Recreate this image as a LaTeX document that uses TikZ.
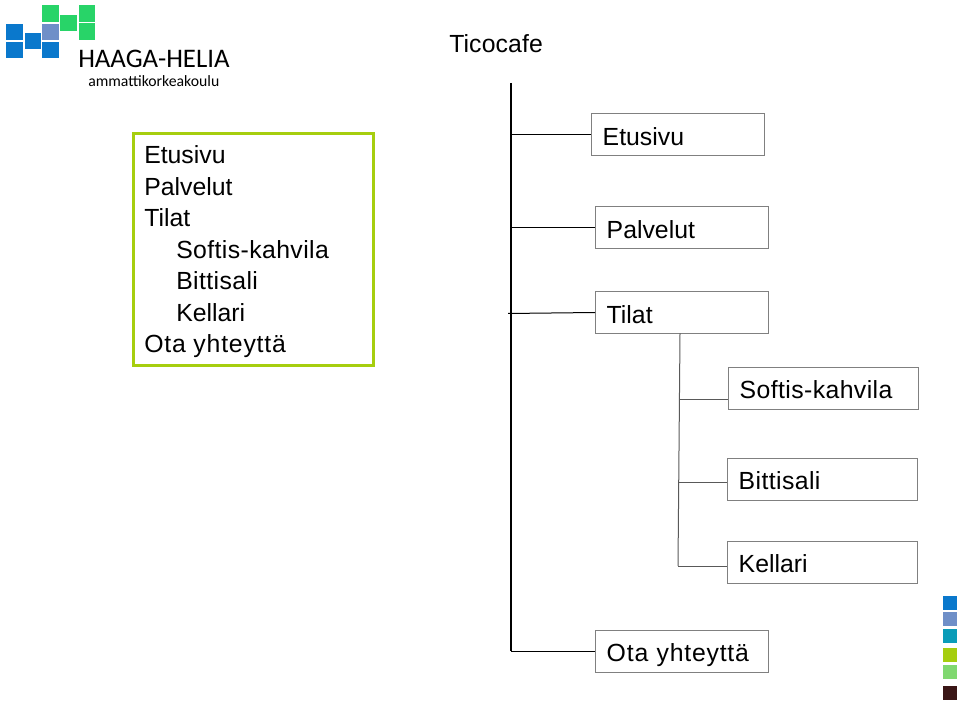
\documentclass[tikz,border=0pt]{standalone}
\usepackage{fontspec}
\setmainfont{Liberation Sans}
\newfontfamily\logofont{Carlito}
\usepackage{xcolor}
\usetikzlibrary{positioning}
\definecolor{hhblue}{HTML}{0A78CC}
\definecolor{hhperi}{HTML}{6F8FC8}
\definecolor{hhteal}{HTML}{0A9CB8}
\definecolor{hhlime}{HTML}{A6CE0E}
\definecolor{hhgreen}{HTML}{28D468}
\definecolor{hhmint}{HTML}{80D870}
\definecolor{hhbrown}{HTML}{3A1616}
\definecolor{boxline}{HTML}{808080}
\newcommand{\spaced}[2]{\addfontfeature{LetterSpace=#1}#2}

\begin{document}
\begin{tikzpicture}[
    x=0.75pt, y=-0.75pt,
    block/.style={draw=boxline, anchor=north west, inner xsep=8.6pt, inner ysep=0pt,
                  text height=23.6pt, text depth=7.9pt, align=left,
                  font=\fontsize{18.6}{18.6}\selectfont},
    nblock/.style={block, text width=112.6pt},
    wblock/.style={block, text width=125.2pt},
    label/.style={anchor=base west, inner sep=0pt, font=\fontsize{18.6}{18.6}\selectfont},
    trunk/.style={black, line width=1.1pt},
    twig/.style={black, line width=0.75pt},
    branch/.style={black!65, line width=0.75pt},
    tile/.style={inner sep=0pt, minimum size=12.4pt, draw=none},
    stile/.style={tile, minimum size=11pt}
  ]
    \useasboundingbox (0,0) rectangle (960,705);

    % Logo
    \node[tile, fill=hhblue] (b1) at (14.5,32) {};
    \node[tile, fill=hhblue] (b2) at (14.5,50) {};
    \node[tile, fill=hhblue] (b3) at (33,41) {};
    \node[tile, fill=hhblue] (b4) at (50.5,50) {};
    \node[tile, fill=hhperi] (p1) at (50.5,32) {};
    \node[tile, fill=hhgreen] (g1) at (50.5,13.5) {};
    \node[tile, fill=hhgreen] (g2) at (68.5,23) {};
    \node[tile, fill=hhgreen] (g3) at (87,13.5) {};
    \node[tile, fill=hhgreen] (g4) at (87,31.5) {};
    \node[anchor=base west, inner sep=0pt, font=\logofont\fontsize{20.1}{20.1}\selectfont] (hh) at (78,68) {HAAGA-HELIA};
    \node[anchor=base west, inner sep=0pt, font=\logofont\fontsize{11.8}{11.8}\selectfont] (amk) at (88,87) {ammattikorkeakoulu};

    % Title
    \node[label] (title) at (449,53) {\spaced{0.5}{Ticocafe}};

    % Menu box
    \node[draw=hhlime, line width=2.6pt, anchor=north west, minimum width=180pt, minimum height=174pt, inner sep=0pt] (menu) at (131.8,132) {};
    \node[label] (m1) at (144,164) {Etusivu};
    \node[label] (m2) at (144,196) {Palvelut};
    \node[label] (m3) at (144,227) {Tilat};
    \node[label] (m4) at (176,259) {\spaced{1.6}{Softis-kahvila}};
    \node[label] (m5) at (176,290) {\spaced{1.6}{Bittisali}};
    \node[label] (m6) at (176,322) {Kellari};
    \node[label] (m7) at (144,353) {\spaced{3.2}{Ota yhteyttä}};

    % Page boxes
    \node[nblock] (etusivu) at (591,113.5) {Etusivu};
    \node[nblock] (palvelut) at (595,206.5) {Palvelut};
    \node[nblock] (tilat) at (595,291.5) {Tilat};
    \node[wblock] (softis) at (728,367) {\spaced{1.6}{Softis-kahvila}};
    \node[wblock] (bittisali) at (727,458) {\spaced{1.6}{Bittisali}};
    \node[wblock] (kellari) at (727,540.5) {Kellari};
    \node[nblock] (ota) at (595,630) {\spaced{3.2}{Ota yhteyttä}};

    % Tree lines
    \coordinate (top) at (511,83);
    \coordinate (bot) at (511,651);
    \coordinate (jetu) at (511,134.5);
    \coordinate (jpal) at (511,227.5);
    \coordinate (jtil) at (508,313.5);
    \coordinate (tilout) at (595,312.5);
    \coordinate (sub) at (680,333.5);
    \coordinate (subend) at (678,566);
    \coordinate (jsof) at (679,399.5);
    \coordinate (jbit) at (679,483);
    \draw[trunk] (top) -- (bot);
    \draw[twig] (jetu) -- (etusivu.west |- jetu);
    \draw[twig] (jpal) -- (palvelut.west |- jpal);
    \draw[twig] (jtil) -- (tilout);
    \draw[twig] (bot) -- (ota.west |- bot);
    \draw[branch] (sub) -- (subend);
    \draw[branch] (jsof) -- (softis.west |- jsof);
    \draw[branch] (jbit) -- (bittisali.west |- jbit);
    \draw[branch] (subend) -- (kellari.west |- subend);

    % Side tiles
    \node[stile, fill=hhblue] (s1) at (950,603) {};
    \node[stile, fill=hhperi] (s2) at (950,619) {};
    \node[stile, fill=hhteal] (s3) at (950,636) {};
    \node[stile, fill=hhlime] (s4) at (950,655) {};
    \node[stile, fill=hhmint] (s5) at (950,672) {};
    \node[stile, fill=hhbrown] (s6) at (950,693) {};
  \end{tikzpicture}
\end{document}
